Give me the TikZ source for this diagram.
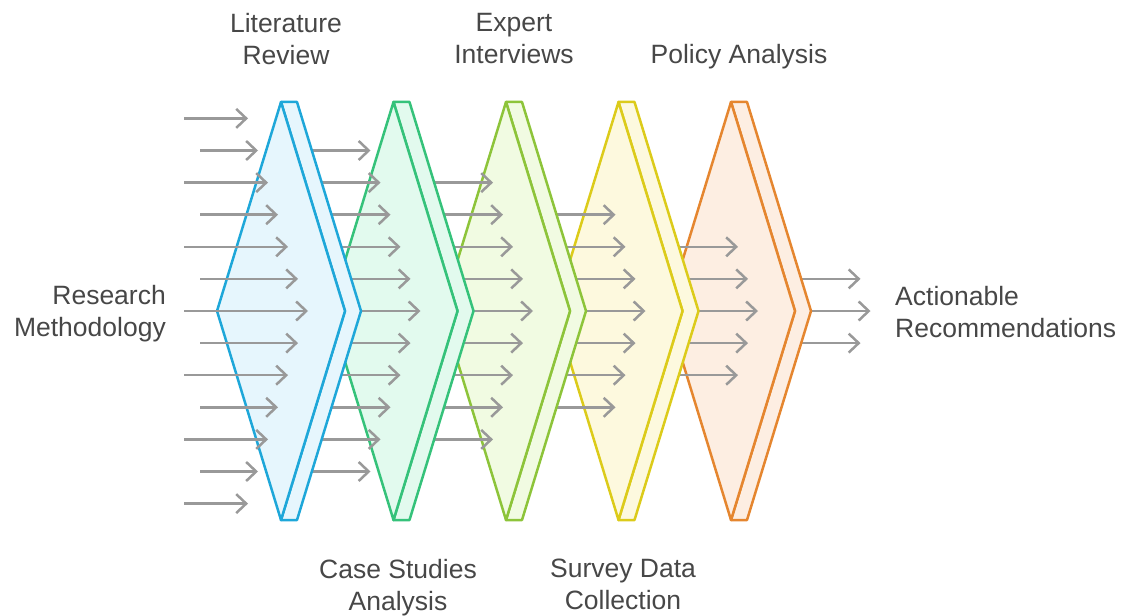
\documentclass[tikz,border=0pt]{standalone}
\usepackage{fontspec}
\setmainfont{Liberation Sans}
\usetikzlibrary{arrows.meta}
\definecolor{txt}{HTML}{474747}
\definecolor{arr}{HTML}{999999}
\definecolor{blS}{HTML}{1EA7D9}\definecolor{blF}{HTML}{E6F6FD}
\definecolor{grS}{HTML}{35C27A}\definecolor{grF}{HTML}{E2FAEE}
\definecolor{liS}{HTML}{8DC43A}\definecolor{liF}{HTML}{F1FBE2}
\definecolor{yeS}{HTML}{DCCB1A}\definecolor{yeF}{HTML}{FDF9DE}
\definecolor{orS}{HTML}{E5862F}\definecolor{orF}{HTML}{FDEEE2}
\tikzset{
  flow/.style={draw=arr, line width=2.5pt, -{Straight Barb[length=10pt,width=19pt,line width=2.5pt]}},
  lbl/.style={text=txt, font=\fontsize{26.5}{32}\selectfont, inner sep=0pt},
  stage/.style={line width=2.5pt, line join=round}
}
\newcommand\chevron[2]{%
  \filldraw[stage, draw=#2S, fill=#2F] (#1,102) -- (#1+16,102) -- (#1+80,311) -- (#1+16,520) -- (#1,520) -- (#1+64,311) -- cycle;
  \filldraw[stage, draw=#2S, fill=#2F] (#1,102) -- (#1+64,311) -- (#1,520) -- (#1-64,311) -- cycle;
}
\begin{document}
\begin{tikzpicture}[x=1pt,y=-1pt]
\useasboundingbox (0,0) rectangle (1123,615);
% stages from right to left, each with the arrows leaving it
\foreach \s/\c/\col in {5/731/or, 4/618.5/ye, 3/506/li, 2/393.5/gr, 1/281/bl}{
  \pgfmathtruncatemacro\h{6-\s}
  \foreach \j in {-\h,...,\h}{
    \pgfmathsetmacro\tx{308+112.5*\s-10*abs(\j)}
    \pgfmathsetmacro\ty{311+32.1*\j}
    \draw[flow] (\c,\ty) -- (\tx,\ty);
  }
  \chevron{\c}{\col}
}
% input arrows
\foreach \j in {-6,...,6}{
  \pgfmathsetmacro\st{ifthenelse(mod(abs(\j),2)==1,200,184)}
  \pgfmathsetmacro\tx{308-10*abs(\j)}
  \pgfmathsetmacro\ty{311+32.1*\j}
  \draw[flow] (\st,\ty) -- (\tx,\ty);
}
% labels
\node[lbl, align=center] (lit) at (286,39) {Literature\\Review};
\node[lbl, align=center] (exp) at (514,39) {Expert\\Interviews};
\node[lbl, align=center] (pol) at (739,56.5) {Policy Analysis};
\node[lbl, align=center] (cas) at (398,588) {Case Studies\\Analysis};
\node[lbl, align=center] (sur) at (623,584) {Survey Data\\Collection};
\node[lbl, align=right, anchor=east] (res) at (166,313.5) {Research\\Methodology};
\node[lbl, align=left, anchor=west] (act) at (895,312) {Actionable\\Recommendations};
\end{tikzpicture}
\end{document}
